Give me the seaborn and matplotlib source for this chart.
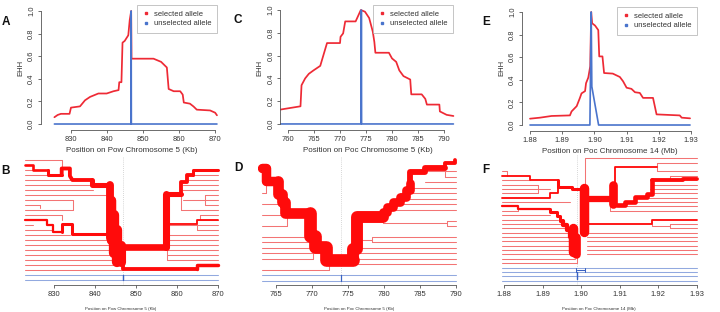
import numpy as np
import matplotlib
matplotlib.use("Agg")
import matplotlib.pyplot as plt
from matplotlib.lines import Line2D
import seaborn as sns

sns.set_theme(style="white")
plt.rcParams['font.family'] = ['Liberation Sans', 'DejaVu Sans']

nan = np.nan

# ---------------- EHH curves (top row) ----------------
A_sel_pos = [825.4, 826.3, 827.2, 829.6, 830.0, 832.5, 833.9, 835.3, 837.6, 839.9, 841.8, 843.2, 843.4,
             844.0, 844.3, 844.9, 845.9, 846.3, 846.7, 846.8, 852.9, 855.0, 856.6, 857.1, 858.5, 860.3,
             861.0, 861.3, 863.0, 864.0, 864.9, 868.6, 870.0, 870.5]
A_sel_ehh = [0.06, 0.08, 0.09, 0.09, 0.145, 0.156, 0.21, 0.24, 0.27, 0.27, 0.29, 0.30, 0.37,
             0.37, 0.72, 0.735, 0.785, 0.92, 1.0, 0.578, 0.578, 0.55, 0.50, 0.31, 0.29, 0.29,
             0.26, 0.19, 0.18, 0.155, 0.127, 0.12, 0.10, 0.077]
A_uns_pos = [825.4, 846.65, 846.7, 846.75, 870.5]
A_uns_ehh = [0.0, 0.0, 1.0, 0.0, 0.0]
A_ticks = [830, 840, 850, 860, 870]

C_sel_pos = [758.5, 762.4, 762.6, 763.3, 764.0, 764.9, 766.2, 767.5, 770.0, 770.1, 770.6, 771.0, 773.0,
             774.0, 774.8, 775.6, 776.3, 776.6, 776.8, 779.4, 780.0, 780.8, 781.4, 782.2, 783.5, 783.7,
             785.7, 786.4, 786.7, 789.1, 789.2, 790.5, 791.8]
C_sel_ehh = [0.126, 0.155, 0.34, 0.40, 0.44, 0.47, 0.51, 0.71, 0.71, 0.765, 0.795, 0.90, 0.90,
             1.0, 0.985, 0.93, 0.81, 0.72, 0.625, 0.625, 0.575, 0.545, 0.47, 0.42, 0.39, 0.26,
             0.26, 0.22, 0.17, 0.17, 0.11, 0.08, 0.07]
C_uns_pos = [758.5, 774.05, 774.1, 774.15, 791.8]
C_uns_ehh = [0.0, 0.0, 1.0, 0.0, 0.0]
C_ticks = [760, 765, 770, 775, 780, 785, 790]

E_sel_pos = [1.8800, 1.8831, 1.8867, 1.8924, 1.8929, 1.8945, 1.8955, 1.8960, 1.8971, 1.8974, 1.8981,
             1.8987, 1.8990, 1.8993, 1.9002, 1.9012, 1.9015, 1.9025, 1.9030, 1.9057, 1.9079, 1.9089,
             1.9100, 1.9115, 1.9126, 1.9141, 1.9151, 1.9182, 1.9193, 1.9265, 1.9271, 1.9297]
E_sel_ehh = [0.056, 0.065, 0.08, 0.085, 0.12, 0.167, 0.24, 0.28, 0.30, 0.37, 0.42,
             0.52, 1.0, 0.90, 0.88, 0.84, 0.607, 0.607, 0.46, 0.455, 0.425, 0.387,
             0.33, 0.32, 0.29, 0.284, 0.24, 0.24, 0.094, 0.085, 0.065, 0.059]
E_uns_pos = [1.8800, 1.8986, 1.8990, 1.8992, 1.9013, 1.9297]
E_uns_ehh = [0.0, 0.0, 1.0, 0.34, 0.0, 0.0]
E_ticks = [1.88, 1.89, 1.90, 1.91, 1.92, 1.93]

ehh_ticks = [0.0, 0.2, 0.4, 0.6, 0.8, 1.0]

# ---------------- Bifurcation diagrams (bottom row) ----------------
# rows: haplotype index (0 = top); red rows first, then blue rows
B_n_red, B_n_blue = 23, 2
B_xmin, B_xmax, B_core = 822.9, 870.0, 846.7
B_left_end = [831.8, nan, 824.9, 828.5, 834.2, 839.1, 839.5, 842.8, 834.6, 826.5, 834.6, 831.8, nan,
              824.9, 829.8, 833.8, 843.0, 843.5, 845.3, 845.3, 846.0, 846.5, 846.7, 846.7, 846.7]
B_right_start = [nan, nan, nan, 863.9, 862.3, 861.5, 861.0, 866.7, 861.4, 866.8, 861.0, 865.5, 864.9,
                 857.4, 864.7, 857.4, 857.4, 857.2, 857.4, 857.4, 857.4, 864.7, nan, 846.7, 846.7]
B_branches = [
    ([822.9, 824.9, 824.9, 828.5], [1, 1, 2, 2], 5),
    ([828.5, 828.5, 831.8], [2, 2.9, 2.9], 6),
    ([831.8, 831.8, 833.8, 833.8, 834.4, 839.1], [2.9, 1.7, 1.7, 3.2, 4.0, 4.0], 8),
    ([839.1, 839.1, 843.3], [4.0, 4.9, 4.9], 11),
    ([843.6, 843.6], [4.9, 15.5], 18),
    ([822.9, 828.1, 828.1, 829.8, 829.8, 831.8], [12, 12, 13, 13, 14.3, 14.3], 4),
    ([831.8, 831.8, 834.2, 834.2, 843.3], [14.3, 12.7, 12.7, 14.8, 14.8], 6),
    ([843.9, 843.9], [8.0, 16.0], 22),
    ([844.6, 844.6], [11.0, 18.5], 24),
    ([845.4, 845.4], [14.0, 20.3], 24),
    ([846.2, 846.2], [17.0, 20.3], 21),
    ([846.7, 857.2], [17.3, 17.3], 15),
    ([857.2, 857.2], [17.3, 6.7], 16),
    ([857.2, 861.0], [6.7, 6.7], 11),
    ([861.0, 861.0, 862.3, 862.3, 863.9], [6.7, 4.3, 4.3, 3.0, 3.0], 8),
    ([863.9, 863.9, 870.0], [3.0, 2.0, 2.0], 6),
    ([846.7, 846.7, 864.7], [20.3, 21.8, 21.8], 8),
    ([864.7, 864.7, 870.0], [21.8, 21.0, 21.0], 7),
    ([857.4, 864.9, 864.9, 870.0], [12.7, 12.7, 11.9, 11.9], 3),
    ([831.8, 831.8], [0, 1.7], 1),
    ([834.6, 834.6], [8, 10], 1),
    ([826.5, 826.5], [9, 9.6], 1),
    ([831.8, 831.8], [11, 12], 1),
    ([866.7, 866.7], [7, 9], 1),
    ([857.4, 857.4], [20, 17.3], 1),
    ([861.0, 861.0], [10, 6.7], 1),
    ([864.7, 864.7], [14, 12.7], 1),
    ([865.5, 865.5], [11, 11.9], 1),
]
B_blue_branches = [([846.7, 846.7], [23, 24], 2)]
B_ticks = [830, 840, 850, 860, 870]

D_n_red, D_n_blue = 21, 2
D_xmin, D_xmax, D_core = 763.0, 790.0, 774.0
D_left_end = [nan, nan, nan, nan, nan, nan, 763.6, nan, 765.8, nan, 766.3, nan, 766.5, nan, 769.7,
              770.4, 770.4, 772.0, 770.2, nan, 772.3, 774.0, 774.0]
D_right_start = [nan, nan, 785.7, 788.5, 785.7, 783.6, 782.2, 781.3, 780.4, 779.9, nan, 788.7, 788.7,
                 nan, 778.3, 778.3, 776.4, 776.2, 776.2, 776.2, nan, 774.0, 774.0]
D_branches = [
    ([763.0, 763.6, 763.6, 765.3], [1.5, 1.5, 3.9, 3.9], 22),
    ([765.3, 765.3, 765.8, 765.8, 766.3, 766.3, 769.7], [3.9, 6.1, 6.1, 7.6, 7.6, 9.7, 9.7], 25),
    ([769.7, 769.7, 770.4, 770.4, 772.0, 772.0, 775.7], [9.7, 13.9, 13.9, 15.8, 15.8, 18.2, 18.2], 30),
    ([775.7, 775.7, 776.2, 776.2, 779.9], [18.2, 16.1, 16.1, 10.3, 10.3], 28),
    ([779.9, 779.9, 780.4, 780.4, 781.3, 781.3, 782.2, 782.2, 783.1, 783.1, 783.6, 783.6],
     [10.3, 9.4, 9.4, 8.5, 8.5, 7.6, 7.6, 6.7, 6.7, 5.5, 5.5, 4.2], 20),
    ([783.6, 783.6, 785.7, 785.7, 788.5], [4.2, 2.1, 2.1, 1.5, 1.5], 13),
    ([788.5, 788.5, 789.9, 789.9], [1.5, 0.6, 0.6, 0.0], 8),
    ([766.5, 766.5], [12, 9.7], 1),
    ([770.2, 770.2], [18, 15.8], 1),
    ([772.3, 772.3], [20, 18.2], 1),
    ([779.9, 779.9, 788.7], [10.3, 11.5, 11.5], 1),
    ([788.7, 788.7], [11, 12], 1),
    ([776.2, 778.3], [14.5, 14.5], 1),
    ([778.3, 778.3], [14, 15], 1),
    ([788.5, 788.5], [1.5, 3], 1),
    ([763.6, 763.6], [3.9, 6], 1),
]
D_blue_branches = [([774.0, 774.0], [21, 22], 1.5)]
D_ticks = [765, 770, 775, 780, 785, 790]

F_n_red, F_n_blue = 25, 4
F_xmin, F_xmax, F_core = 1.8794, 1.9300, 1.8989
F_left_end = [nan, nan, nan, 1.8807, nan, 1.8867, 1.8889, 1.8919, 1.8889, nan, 1.8971, nan, 1.8837,
              1.8919, 1.8941, 1.8954, 1.8967, 1.8976, 1.8976, 1.8980, 1.8980, 1.8983, 1.8985, 1.8985,
              1.8989, 1.8989, 1.8989, 1.8989, 1.8989]
F_right_start = [1.9010, 1.9196, nan, 1.9196, 1.9231, nan, 1.9183, 1.9179, 1.9170, 1.9140, 1.9114,
                 1.9092, 1.9075, nan, nan, 1.9231, 1.9231, 1.9015, 1.9015, 1.9015, 1.9015, 1.9015,
                 1.9015, nan, nan, 1.8989, 1.8989, 1.8989, 1.8989]
F_branches = [
    ([1.8794, 1.8867, 1.8867, 1.8941], [4, 4, 5, 5], 3),
    ([1.8941, 1.8941, 1.8976, 1.8976, 1.9000], [5, 6.5, 6.5, 7, 7], 6),
    ([1.8794, 1.8919, 1.8919, 1.8941, 1.8941], [9, 9, 8, 8, 6.5], 3),
    ([1.8794, 1.8837, 1.8837, 1.8919], [11, 11, 11.5, 11.5], 4),
    ([1.8919, 1.8919, 1.8937, 1.8937, 1.8945, 1.8945, 1.8954], [11.5, 12.3, 12.3, 13.3, 13.3, 14.3, 14.3], 6),
    ([1.8954, 1.8954, 1.8963, 1.8963, 1.8971, 1.8971], [14.3, 15.3, 15.3, 16.5, 16.5, 18], 9),
    ([1.8978, 1.8978], [16, 21.5], 22),
    ([1.8986, 1.8986], [18, 22], 20),
    ([1.9008, 1.9008], [6.8, 16.8], 22),
    ([1.9010, 1.9075], [9.2, 9.2], 14),
    ([1.9083, 1.9083], [6.0, 10.5], 20),
    ([1.9092, 1.9114, 1.9114, 1.9140, 1.9140, 1.9170, 1.9170, 1.9183, 1.9183],
     [10.7, 10.7, 9.9, 9.9, 8.8, 8.8, 8.2, 8.2, 5.0], 10),
    ([1.9183, 1.9265, 1.9265, 1.9300], [5.0, 5.0, 4.7, 4.7], 8),
    ([1.9088, 1.9088, 1.9196], [6.0, 2.0, 2.0], 3),
    ([1.9010, 1.9183, 1.9183, 1.9300], [15.0, 15.0, 14.0, 14.0], 3),
    ([1.9010, 1.9010], [0, 9.2], 1),
    ([1.9196, 1.9196], [1, 3], 1),
    ([1.9231, 1.9231], [4, 4.7], 1),
    ([1.8807, 1.8807], [3, 4], 1),
    ([1.8837, 1.8837], [12, 11.5], 1),
    ([1.8889, 1.8889], [6, 8], 1),
    ([1.9075, 1.9075], [12, 10.5], 1),
    ([1.9183, 1.9183, 1.9231], [15, 15.5, 15.5], 1),
    ([1.9231, 1.9231], [15, 16], 1),
    ([1.8989, 1.8989], [24, 22], 1),
]
F_blue_branches = [
    ([1.8987, 1.8987], [25, 26], 1),
    ([1.8989, 1.8989], [26, 27.5], 2),
    ([1.8989, 1.9010], [25.5, 25.5], 1),
    ([1.9010, 1.9010], [25, 26], 1),
]
F_ticks = [1.88, 1.89, 1.90, 1.91, 1.92, 1.93]

# ---------------- styling ----------------
RED = '#ee2a35'
BLUE = '#4a74cc'
TRUNK = '#ff0b0b'
LEAF = '#f37474'
LEAF_B = '#92a9df'
TRUNK_B = '#3a62c2'
AXC = '#555555'
TXT = '#333333'

W, H = 720, 312
fig = plt.figure(figsize=(W / 100, H / 100), dpi=100)
fig.patch.set_facecolor('white')


def add_ax(x0, y0, x1, y1):
    return fig.add_axes([x0 / W, 1 - y1 / H, (x1 - x0) / W, (y1 - y0) / H])


def ehh_panel(box, xlim, ylim, ticks, ticklabels, sel_x, sel_y, uns_x, uns_y, xlabel, leg_anchor):
    ax = add_ax(*box)
    ax.set_facecolor('none')
    sns.lineplot(x=sel_x, y=sel_y, sort=False, estimator=None, color=RED, linewidth=1.25, ax=ax)
    sns.lineplot(x=uns_x, y=uns_y, sort=False, estimator=None, color=BLUE, linewidth=1.2, ax=ax)
    ax.set_xlim(*xlim)
    ax.set_ylim(*ylim)
    for s in ['top', 'right']:
        ax.spines[s].set_visible(False)
    for s in ['left', 'bottom']:
        ax.spines[s].set_color(AXC)
        ax.spines[s].set_linewidth(0.6)
    ax.spines['left'].set_bounds(0, 1)
    ax.spines['bottom'].set_bounds(ticks[0], ticks[-1])
    ax.set_xticks(ticks)
    ax.set_xticklabels(ticklabels)
    ax.set_yticks(ehh_ticks)
    ax.set_yticklabels([f"{t:.1f}" for t in ehh_ticks], rotation=90, va='center')
    ax.tick_params(axis='both', which='major', bottom=True, left=True, direction='out', length=2.5,
                   width=0.6, color=AXC, labelsize=5.4, labelcolor=TXT, pad=1.5)
    ax.set_xlabel(xlabel, fontsize=5.8, color=TXT, labelpad=3)
    ax.set_ylabel('EHH', fontsize=5.5, color=TXT, labelpad=3)
    handles = [Line2D([], [], marker='s', ls='', color=RED, ms=1.8, label='selected allele'),
               Line2D([], [], marker='s', ls='', color=BLUE, ms=1.8, label='unselected allele')]
    leg = ax.legend(handles=handles, loc='upper right', bbox_to_anchor=leg_anchor, fontsize=5.5,
                    frameon=True, fancybox=False, edgecolor='#aaaaaa', borderaxespad=0,
                    handlelength=0.8, handletextpad=0.7, labelspacing=0.3, borderpad=0.7)
    leg.get_frame().set_linewidth(0.6)
    for t in leg.get_texts():
        t.set_color(TXT)
    return ax


def tree_panel(box, xlim, ylim, ticks, ticklabels, n_red, n_blue, xmin, xmax, core,
               left_end, right_start, branches, blue_branches, xlabel):
    ax = add_ax(*box)
    ax.set_facecolor('none')
    ax.axvline(core, color='#c9c9c9', lw=0.6, ls=(0, (1, 1.5)), zorder=0)
    for r in range(n_red + n_blue):
        col = LEAF if r < n_red else LEAF_B
        if not np.isnan(left_end[r]):
            ax.plot([xmin, left_end[r]], [r, r], color=col, lw=0.75, zorder=1)
        if not np.isnan(right_start[r]):
            ax.plot([right_start[r], xmax], [r, r], color=col, lw=0.75, zorder=1)
    for xs, ys, w in branches:
        col = LEAF if w <= 1 else TRUNK
        ax.plot(xs, ys, color=col, lw=0.45 + 0.29 * w, solid_capstyle='round',
                solid_joinstyle='round', zorder=2 + w / 100)
    for xs, ys, w in blue_branches:
        ax.plot(xs, ys, color=TRUNK_B, lw=0.45 + 0.29 * w, solid_capstyle='round', zorder=3)
    ax.set_xlim(*xlim)
    ax.set_ylim(*ylim)
    for s in ['top', 'right', 'left']:
        ax.spines[s].set_visible(False)
    ax.spines['bottom'].set_color(AXC)
    ax.spines['bottom'].set_linewidth(0.6)
    ax.spines['bottom'].set_bounds(ticks[0], ticks[-1])
    ax.set_yticks([])
    ax.set_xticks(ticks)
    ax.set_xticklabels(ticklabels)
    ax.tick_params(axis='x', bottom=True, direction='out', length=2.5, width=0.6, color=AXC,
                   labelsize=5.5, labelcolor=TXT, pad=1.5)
    ax.set_xlabel(xlabel, fontsize=3.2, color=TXT, labelpad=7)
    return ax


# top row
ehh_panel((40.7, 5, 222, 130), (821.6, 871.9), (-0.053, 1.053), A_ticks, [str(t) for t in A_ticks],
          A_sel_pos, A_sel_ehh, A_uns_pos, A_uns_ehh, 'Position on Pow Chromosome 5 (Kb)', (0.9725, 1.0))
ehh_panel((280, 5, 456, 130), (758.46, 792.3), (-0.053, 1.044), C_ticks, [str(t) for t in C_ticks],
          C_sel_pos, C_sel_ehh, C_uns_pos, C_uns_ehh, 'Position on Poc Chromosome 5 (Kb)', (0.983, 1.0))
ehh_panel((521.7, 5, 697, 131), (1.87742, 1.93186), (-0.053, 1.062), E_ticks,
          [f"{t:.2f}" for t in E_ticks], E_sel_pos, E_sel_ehh, E_uns_pos, E_uns_ehh,
          'Position on Poc Chromosome 14 (Mb)', (1.0, 0.984))

# bottom row
tree_panel((20, 157, 222, 285), (821.63, 870.9), (25.0, -0.6), B_ticks, [str(t) for t in B_ticks],
           B_n_red, B_n_blue, B_xmin, B_xmax, B_core, B_left_end, B_right_start, B_branches,
           B_blue_branches, 'Position on Pow Chromosome 5 (Kb)')
tree_panel((258, 157, 460, 285), (762.5, 790.56), (22.73, -0.55), D_ticks, [str(t) for t in D_ticks],
           D_n_red, D_n_blue, D_xmin, D_xmax, D_core, D_left_end, D_right_start, D_branches,
           D_blue_branches, 'Position on Poc Chromosome 5 (Kb)')
tree_panel((498, 155, 700, 285), (1.87845, 1.93078), (28.98, -0.76), F_ticks,
           [f"{t:.2f}" for t in F_ticks], F_n_red, F_n_blue, F_xmin, F_xmax, F_core, F_left_end,
           F_right_start, F_branches, F_blue_branches, 'Position on Poc Chromosome 14 (Mb)')

# panel letters
for lab, (x, y) in {'A': (6, 22), 'B': (6, 171), 'C': (238, 20), 'D': (238, 168),
                    'E': (486, 22), 'F': (486, 170)}.items():
    fig.text(x / W, 1 - y / H, lab, fontsize=8.5, fontweight='bold', ha='center', va='center',
             color='#111111')

fig.savefig('out.png', dpi=100, facecolor='white')
